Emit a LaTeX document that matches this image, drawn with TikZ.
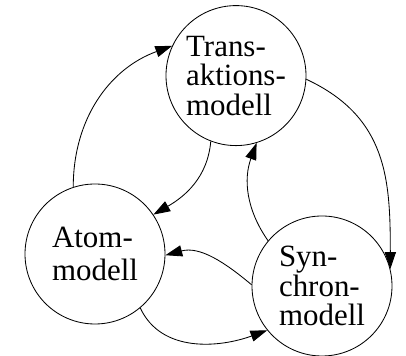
\documentclass[tikz,border=0pt]{standalone}
\usepackage{fontspec}
\setmainfont{Liberation Serif}
\usetikzlibrary{positioning, arrows.meta}

\begin{document}
\begin{tikzpicture}[every node/.style={draw, circle, minimum size=3.5cm, inner sep=0pt, align=left, font=\fontsize{22}{21}\selectfont}, >={Triangle[length=0.42cm, width=0.28cm]}, line width=0.6pt]
			\useasboundingbox (0,0) rectangle (10.15,-8.9);
			% Models
			\node (trans) at (5.9,-1.89) {Trans-\\aktions-\\modell};
			\node (atom) at (2.375,-6.35) {Atom-\\[2pt]modell};
			\node (sync) at (8.05,-7.15) {Syn-\\chron-\\modell};
			% Arrows atom<->trans
			\draw[->] (atom.108) to[out=90, in=200] (trans.155);
			\draw[->] (trans.249) to[out=265, in=30] (atom.34);
			% Arrows trans<->sync
			\draw[->] (trans.357) to[out=-25, in=90, looseness=1.1] (sync.14);
			\draw[->] (sync.140) to[out=125, in=250] (trans.287);
			% Arrows sync<->atom
			\draw[->] (sync.179) to[out=140, in=15] (atom.359);
			\draw[->] (atom.310) to[out=295, in=200] (sync.219);
		\end{tikzpicture}
\end{document}
